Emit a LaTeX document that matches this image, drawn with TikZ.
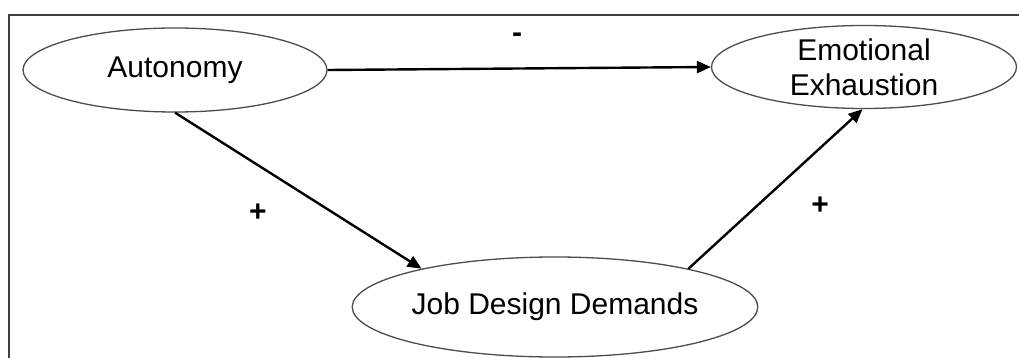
\documentclass[tikz,border=0pt]{standalone}
\usepackage{fontspec}
\setmainfont{Liberation Sans}
\usetikzlibrary{shapes.geometric,arrows.meta}
\begin{document}
\begin{tikzpicture}[x=1pt,y=-1pt,
  var/.style={ellipse,draw=black!70,line width=1.3pt,inner sep=0pt,align=center,
    font=\fontsize{30}{35}\selectfont},
  arr/.style={line width=2.4pt,-{Triangle[length=14pt,width=12pt]}},
  lbl/.style={font=\fontsize{30}{35}\selectfont\bfseries,inner sep=0pt},
  frame/.style={draw=black!75,line width=1.2pt}]
\useasboundingbox (0,0) rectangle (1019,358);
\draw[frame] (9,358) -- (9,15) -- (1019,15);
\node[var,minimum width=304pt,minimum height=84pt] (aut) at (175,70) {Autonomy};
\node[var,minimum width=305pt,minimum height=83pt] (ee) at (864,67) {Emotional\\Exhaustion};
\node[var,minimum width=370pt,minimum height=100pt] (jdd) at (555,307) {Job Design Demands};
\draw[arr] (aut.east) -- (ee.west);
\draw[arr] (aut.south) -- (jdd.164);
\draw[arr] (jdd.16) -- (ee.268);
\node[lbl] (minus) at (517,38) {-};
\node[lbl] (plusa) at (258,213) {+};
\node[lbl] (plusb) at (820,206) {+};
\end{tikzpicture}
\end{document}
